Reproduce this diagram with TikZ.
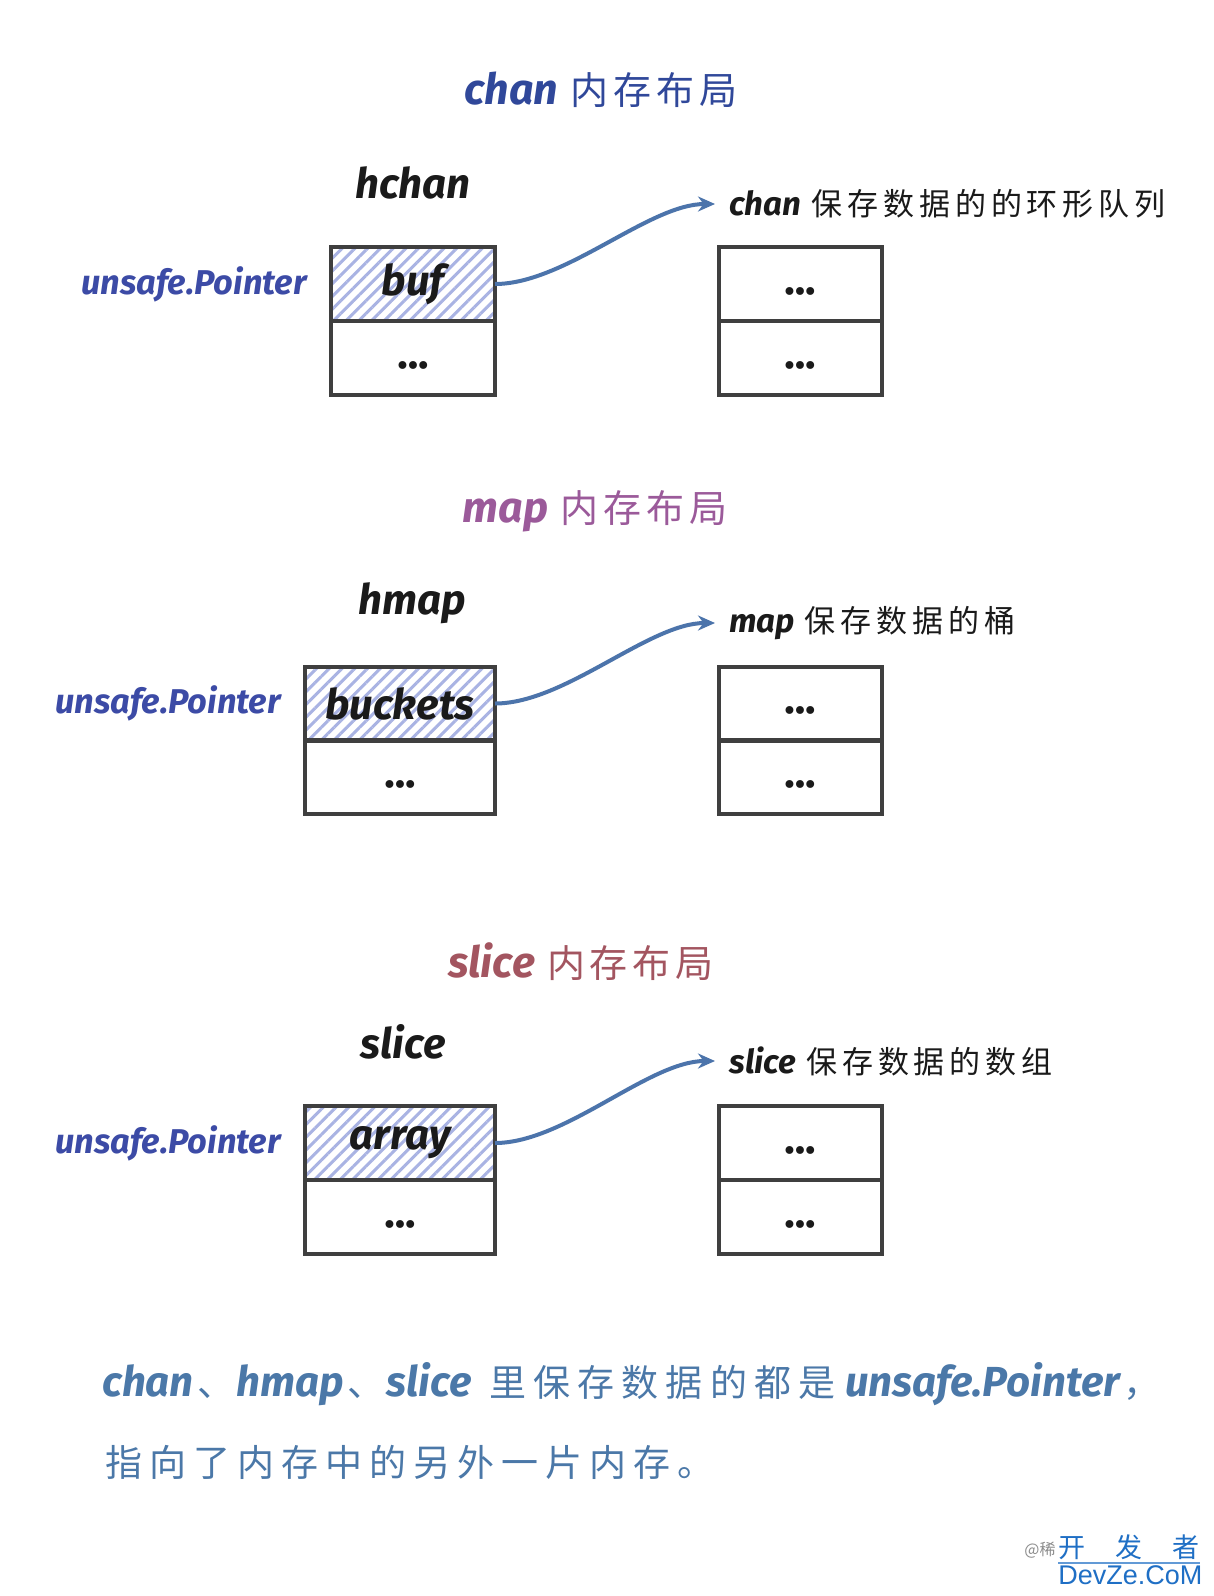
\documentclass[tikz,border=0pt]{standalone}
\usepackage{fontspec}
\setmainfont{Fira Sans}
\newfontfamily\cjk{Noto Sans CJK SC}
\newfontfamily\cjkT{Noto Sans CJK SC}[LetterSpace=13]
\newfontfamily\cjkR{Noto Sans CJK SC}[LetterSpace=16]
\newfontfamily\cjkB{Noto Sans CJK SC}[LetterSpace=19]
\newfontfamily\dejavu{DejaVu Sans}
\newfontfamily\wmfont{Liberation Sans}
\usetikzlibrary{patterns.meta,arrows.meta}
\definecolor{chanc}{HTML}{30489A}
\definecolor{mapc}{HTML}{9B5A9A}
\definecolor{slicec}{HTML}{A35560}
\definecolor{ptrc}{HTML}{3C4BA6}
\definecolor{notec}{HTML}{4B78A8}
\definecolor{arrowc}{HTML}{4C74AB}
\definecolor{hatchc}{HTML}{A9B3E3}
\definecolor{boxc}{HTML}{3F3F3F}
\definecolor{inkc}{HTML}{1A1A1A}
\definecolor{wmc}{HTML}{1F6FC5}
\newcommand\fsz[1]{\fontsize{#1}{#1}\selectfont}
\newcommand\lat[2]{{\fsz{#1}\bfseries\itshape #2}}
\newcommand\cjt[2]{{\cjkT\fsz{#1}#2}}
\newcommand\cjr[2]{{\cjkR\fsz{#1}#2}}
\newcommand\cjb[2]{{\cjkB\fsz{#1}#2}}
\newcommand\tdots{\smash{\raisebox{-8.5pt}{\dejavu\fsz{13.5}•\kern-2.8pt•\kern-2.8pt•}}}
\begin{document}
\begin{tikzpicture}[x=0.5pt,y=-0.5pt,
  cell/.style={draw=boxc, line width=2pt, minimum height=37pt, inner sep=0pt, outer sep=0pt, text=inkc},
  hatched/.style={pattern={Lines[angle=45,distance=4.5pt,line width=1.5pt]}, pattern color=hatchc},
  lbl/.style={inner sep=0pt, text=inkc},
  conn/.style={draw=arrowc, line width=2pt, -{Stealth[length=8.5pt,width=7.5pt]}, shorten >=7pt},
]
\useasboundingbox (0,0) rectangle (1214,1596);
\fill[white] (0,0) rectangle (1214,1596);

% ---------- chan ----------
\node[lbl, text=chanc] (tchan) at (601,90) {\lat{21.5}{chan}\hspace{6pt}\cjt{19}{内存布局}};
\node[lbl] (hchan) at (413,183) {\lat{21}{hchan}};
\node[cell, hatched, minimum width=82pt] (buf) at (413,284) {\lat{21}{buf}};
\node[cell, minimum width=82pt] (chanrest) at (413,358) {\tdots};
\node[lbl, text=ptrc, anchor=east] (pchan) at ([xshift=-12pt]buf.west) {\lat{17.2}{unsafe.Pointer}};
\node[cell, minimum width=81.5pt] (cq1) at (800,284) {\tdots};
\node[cell, minimum width=81.5pt] (cq2) at (800,358) {\tdots};
\node[lbl, anchor=west] (cdesc) at (729,204) {\lat{16.5}{chan}\hspace{5pt}\cjr{15.5}{保存数据的的环形队列}};
\draw[conn] (buf.east) .. controls +(70,0) and +(-80,0) .. (cdesc.west);

% ---------- map ----------
\node[lbl, text=mapc] (tmap) at (595,511) {\lat{21.5}{map}\hspace{6pt}\cjt{19}{内存布局}};
\node[lbl] (hmap) at (412,603) {\lat{21}{hmap}};
\node[cell, hatched, minimum width=95pt] (buckets) at (400,703.5) {\lat{21}{buckets}};
\node[cell, minimum width=95pt] (maprest) at (400,777) {\tdots};
\node[lbl, text=ptrc, anchor=east] (pmap) at ([xshift=-12pt]buckets.west) {\lat{17.2}{unsafe.Pointer}};
\node[cell, minimum width=81.5pt] (mb1) at (800,703.5) {\tdots};
\node[cell, minimum width=81.5pt] (mb2) at (800,777) {\tdots};
\node[lbl, anchor=west] (mdesc) at (729,623) {\lat{16.5}{map}\hspace{5pt}\cjr{15.5}{保存数据的桶}};
\draw[conn] (buckets.east) .. controls +(70,0) and +(-80,0) .. (mdesc.west);

% ---------- slice ----------
\node[lbl, text=slicec] (tslice) at (581,962) {\lat{21.5}{slice}\hspace{6pt}\cjt{19}{内存布局}};
\node[lbl] (hslice) at (403,1042) {\lat{21}{slice}};
\node[cell, hatched, minimum width=95pt] (array) at (400,1143) {\lat{21}{array}};
\node[cell, minimum width=95pt] (slicerest) at (400,1217) {\tdots};
\node[lbl, text=ptrc, anchor=east] (pslice) at ([xshift=-12pt]array.west) {\lat{17.2}{unsafe.Pointer}};
\node[cell, minimum width=81.5pt] (sa1) at (800,1143) {\tdots};
\node[cell, minimum width=81.5pt] (sa2) at (800,1217) {\tdots};
\node[lbl, anchor=west] (sdesc) at (729,1061) {\lat{16.5}{slice}\hspace{5pt}\cjr{15.5}{保存数据的数组}};
\draw[conn] (array.east) .. controls +(70,0) and +(-80,0) .. (sdesc.west);

% ---------- note ----------
\node[lbl, text=notec, anchor=west] (note1) at (102,1384) {\lat{21}{chan}\hspace{2pt}\cjb{18.5}{、}\hspace{1pt}\lat{21}{hmap}\hspace{2pt}\cjb{18.5}{、}\hspace{1pt}\lat{21}{slice}\hspace{9pt}\cjb{18.5}{里保存数据的都是}\hspace{5pt}\lat{21}{unsafe.Pointer}\hspace{2pt}\cjb{18.5}{，}};
\node[lbl, text=notec, anchor=west] (note2) at (105,1462) {\cjb{18.5}{指向了内存中的另外一片内存。}};

% ---------- watermark ----------
\node[lbl, text=black!45, anchor=east] (wm0) at (1056,1550) {{\cjk\fsz{8}@稀}};
\node[lbl, text=wmc, anchor=west] (wm1) at (1058,1547) {{\cjk\fsz{13.5}开\hspace{15pt}发\hspace{15pt}者}};
\draw[wmc!70, line width=0.6pt] ([yshift=-1.5pt]wm1.south west) -- ([yshift=-1.5pt]wm1.south east);
\node[lbl, text=wmc, anchor=north west] (wm2) at (1058,1565) {{\wmfont\fsz{13.5}DevZe.CoM}};
\end{tikzpicture}
\end{document}
